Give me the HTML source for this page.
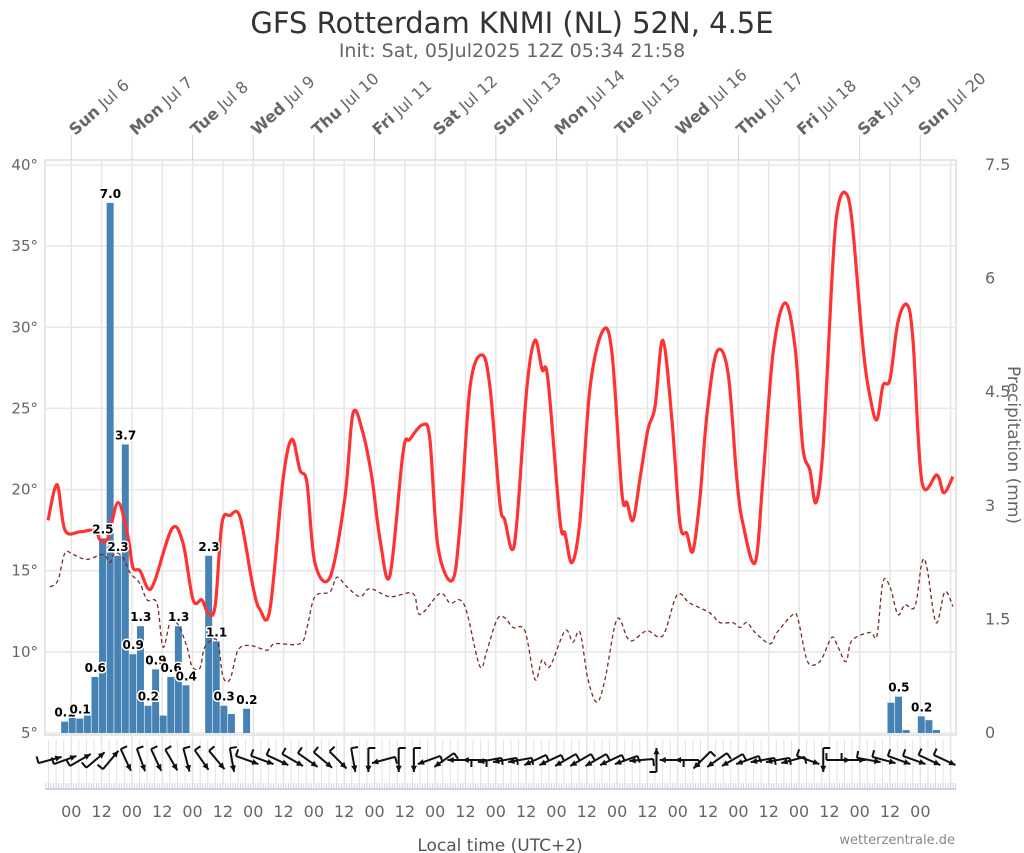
<!DOCTYPE html>
<html><head><meta charset="utf-8"><style>
html,body{margin:0;padding:0;background:#fff;}
svg{display:block;font-family:"DejaVu Sans","Liberation Sans",sans-serif;}
</style></head><body>
<svg id="chart" width="1024" height="853" viewBox="0 0 1024 853" xmlns="http://www.w3.org/2000/svg">
<text x="512" y="33" text-anchor="middle" font-size="29" fill="#333">GFS Rotterdam KNMI (NL) 52N, 4.5E</text>
<text x="512" y="57" text-anchor="middle" font-size="19" fill="#666">Init: Sat, 05Jul2025 12Z 05:34 21:58</text>
<g id="grid"></g>
<g id="bars"></g>
<g id="lines"></g>
<g id="wind"></g>
<g id="axes"></g>
<text x="500" y="851" text-anchor="middle" font-size="17" fill="#555">Local time (UTC+2)</text>
<text x="955" y="844" text-anchor="end" font-size="13" fill="#888">wetterzentrale.de</text>
<text transform="translate(1008,445) rotate(90)" text-anchor="middle" font-size="17" fill="#666">Precipitation (mm)</text>
</svg>
<script>
const tempHours=[0.8,4.4,7.5,13.5,19.4,21.4,24.5,28.5,32.4,34.4,37.2,40.4,43.1,49.9,54.2,58.2,61.7,64.1,66.9,69.6,72.8,76.8,81.9,84.7,88.6,93.8,97.3,100.5,103.3,106.4,112.4,118.3,121.5,125.4,129.0,132.2,136.1,141.3,144.0,149.2,151.9,155.1,160.7,163.8,167.8,172.5,175.7,179.6,181.6,184.4,186.4,190.3,193.5,196.3,198.6,203.4,205.4,208.1,211.3,215.3,220.4,224.0,227.9,229.9,232.3,235.0,238.2,241.0,244.1,247.7,250.9,253.6,256.0,258.8,261.6,265.5,269.9,273.4,275.8,280.6,283.7,287.7,292.4,296.4,299.5,302.3,304.7,307.5,311.4,313.4,316.2,318.9,323.3,326.1,328.8,331.2,334.0,337.1,340.7,343.1,346.6,352.6,355.3,358.9];
const tempValues=[18.1,20.3,17.5,17.4,17.5,16.9,17.0,19.2,17.1,15.2,15.0,13.9,14.4,17.6,16.7,13.2,13.2,12.4,12.8,17.9,18.4,18.3,14.0,12.6,12.6,20.6,23.1,21.2,20.4,15.5,14.6,19.5,24.7,23.5,20.7,16.9,14.7,22.3,23.1,24.0,23.1,16.5,14.4,17.7,26.3,28.3,26.3,19.2,18.1,16.3,18.1,26.3,29.2,27.4,26.8,18.1,17.3,15.5,18.1,26.3,29.8,28.4,19.8,19.2,18.1,20.6,23.7,25.1,29.2,24.3,17.9,17.3,16.2,19.5,24.7,28.5,27.2,20.6,17.9,15.5,20.6,28.4,31.5,28.8,22.6,21.2,19.2,22.6,34.0,37.4,38.3,36.6,28.8,25.7,24.3,26.4,26.8,30.3,31.4,29.2,20.5,20.9,19.8,20.8];
const dewHours=[1.6,4.7,7.5,10.7,16.2,22.6,25.3,27.3,30.5,33.2,37.2,40.0,43.9,46.3,49.1,52.2,55.8,57.8,60.9,62.9,67.7,70.0,72.8,76.0,80.7,87.5,90.6,100.5,103.3,106.4,112.4,115.1,119.1,124.3,128.2,136.1,145.2,148.0,155.9,159.9,163.8,166.6,171.7,174.5,178.5,181.6,184.8,189.5,193.5,196.3,199.4,205.4,208.5,211.3,214.5,218.0,221.2,225.9,229.9,232.3,237.8,244.1,249.7,254.8,262.7,266.7,271.8,274.6,277.4,280.6,286.5,289.3,295.6,297.6,301.1,304.3,307.1,311.0,313.4,316.6,318.9,326.1,328.8,331.2,334.0,337.1,339.9,343.9,346.6,348.6,352.2,355.7,358.9];
const dewValues=[14.0,14.4,16.1,16.0,15.7,16.0,15.5,16.1,15.8,14.9,14.2,13.2,13.0,10.3,11.8,11.7,10.3,9.1,9.0,10.3,10.7,8.5,8.3,10.1,10.4,10.1,10.5,10.5,11.5,13.4,13.7,14.6,14.0,13.4,13.9,13.4,13.6,12.3,13.6,13.0,13.2,12.4,9.1,10.1,12.0,12.1,11.5,11.3,8.3,9.5,9.1,11.3,10.6,11.2,8.3,6.9,8.3,12.0,10.9,10.7,11.3,11.0,13.5,13.0,12.4,11.8,11.8,11.5,11.8,11.2,10.5,11.2,12.3,12.0,9.5,9.2,9.6,10.9,10.3,9.4,10.7,11.2,11.0,14.3,14.0,12.3,12.9,12.8,15.5,15.2,11.8,13.7,12.8];
const barHours=[6,9,12,15,18,21,24,27,30,33,36,39,42,45,48,51,54,57,60,63,66,69,72,75,78,333,336,339,342,345,348,351];
const barValues=[0.15,0.22,0.19,0.23,0.74,2.57,7.0,2.34,3.81,1.04,1.41,0.36,0.84,0.23,0.74,1.41,0.63,0,0,2.34,1.21,0.36,0.25,0,0.32,0.4,0.48,0.04,0,0.22,0.17,0.04];
const barLabels=["0.1","","0.1","","0.6","2.5","7.0","2.3","3.7","0.9","1.3","0.2","0.9","","0.6","1.3","0.4","","","2.3","1.1","0.3","","","0.2","","0.5","","","0.2","",""];
const windAngles=[-15,-20,-30,-40,-50,65,70,65,60,75,55,50,80,20,20,25,30,35,40,45,80,90,165,90,90,160,145,180,180,170,170,170,155,155,150,150,150,155,160,175,-90,180,180,135,145,150,160,170,170,165,20,90,0,0,10,15,20,20,25,25];
const dayLabels=["Sun","Mon","Tue","Wed","Thu","Fri","Sat","Sun","Mon","Tue","Wed","Thu","Fri","Sat","Sun"];
const dateLabels=["Jul 6","Jul 7","Jul 8","Jul 9","Jul 10","Jul 11","Jul 12","Jul 13","Jul 14","Jul 15","Jul 16","Jul 17","Jul 18","Jul 19","Jul 20"];
const tempTicks=[5,10,15,20,25,30,35,40];
const precTicks=[0,1.5,3,4.5,6,7.5];

const NS="http://www.w3.org/2000/svg";
const X0=46,PXH=2.527,TOP=165,BOT=733,L=45,R=956;
const xH=h=>X0+h*PXH;
const yT=t=>BOT-(t-5)*(BOT-TOP)/35;
const yP=p=>BOT-p*(BOT-TOP)/7.5;
function mk(tag,attrs,parent){const e=document.createElementNS(NS,tag);for(const k in attrs)e.setAttribute(k,attrs[k]);parent.appendChild(e);return e;}
const grid=document.getElementById('grid'),axes=document.getElementById('axes');
let bg=mk('rect',{x:L,y:160,width:R-L,height:BOT-160+2,fill:'none',stroke:'#ccc','stroke-width':1},grid);


tempTicks.forEach(t=>{
  const y=yT(t);
  const l=mk('line',{x1:L,x2:R,y1:y,y2:y,stroke:'#e8e8e8','stroke-width':1.5},grid);
  
  
  const tx=mk('text',{x:38,y:y+5,'text-anchor':'end','font-size':15,fill:'#666'},axes);
  tx.textContent=t+'°';
  
  
});
precTicks.forEach(p=>{
  const tx=mk('text',{x:985,y:yP(p)+5,'font-size':16,fill:'#666'},axes);
  tx.textContent=String(p);
  
  
});
for(let h=10-12;h<=360;h+=12){
  const x=xH(h); if(x<L||x>R)continue;
  const l=mk('line',{x1:x,x2:x,y1:160,y2:785,stroke:'#e6e6e6','stroke-width':1.5},grid);
  
  
}
for(let h=1;h<=360;h+=3){
  const x=xH(h);
  const l=mk('line',{x1:x,x2:x,y1:740,y2:785,stroke:'#e3e3e3','stroke-width':1},grid);
  
  
}
for(let h=0;h<=360;h+=1){
  const x=xH(h);
  const l=mk('line',{x1:x,x2:x,y1:783,y2:789,stroke:'#cdd3e0','stroke-width':1},grid);
  
  
}
const bl=mk('line',{x1:L,x2:R,y1:789,y2:789,stroke:'#cdd3e0','stroke-width':2},grid);


for(let h=10,i=0;h<=350;h+=12,i++){
  const tx=mk('text',{x:xH(h),y:817,'text-anchor':'middle','font-size':16,fill:'#666'},axes);
  tx.textContent=(i%2===0)?'00':'12';
  
  
}
dayLabels.forEach((d,i)=>{
  const x=xH(10+24*i);
  const l=mk('line',{x1:x,x2:x,y1:135,y2:160,stroke:'#ccd6eb','stroke-width':1},axes);
  
  
  const tx=mk('text',{transform:`translate(${x+4},${136}) rotate(-42)`,'font-size':16,fill:'#666'},axes);
  
  
  const b=mk('tspan',{'font-weight':'bold'},tx); b.textContent=d;
  const s=mk('tspan',{},tx); s.textContent=' '+dateLabels[i];
});
const bars=document.getElementById('bars');
barHours.forEach((h,i)=>{
  const v=barValues[i]; if(v<=0)return;
  const x=xH(h),w=3*PXH,y=yP(v);
  const r=mk('rect',{x:x,y:y,width:w-0.6,height:BOT-y,fill:'#4682b4'},bars);
  
  
});
function smooth(hs,vs,yf){
  const p=hs.map((h,i)=>[xH(h),yf(vs[i])]);
  let d='M'+p[0][0]+','+p[0][1];
  for(let i=0;i<p.length-1;i++){
    const p0=p[i-1]||p[i],p1=p[i],p2=p[i+1],p3=p[i+2]||p2;
    const c1=[p1[0]+(p2[0]-p0[0])/6,p1[1]+(p2[1]-p0[1])/6];
    const c2=[p2[0]-(p3[0]-p1[0])/6,p2[1]-(p3[1]-p1[1])/6];
    d+=`C${c1[0].toFixed(1)},${c1[1].toFixed(1)} ${c2[0].toFixed(1)},${c2[1].toFixed(1)} ${p2[0].toFixed(1)},${p2[1].toFixed(1)}`;
  }
  return d;
}
const lines=document.getElementById('lines');
const dl=mk('path',{d:smooth(dewHours,dewValues,yT),fill:'none',stroke:'#7a2a2a','stroke-width':1.3,'stroke-dasharray':'4,3'},lines);


const tl=mk('path',{d:smooth(tempHours,tempValues,yT),fill:'none',stroke:'#ff3333','stroke-width':3.2,'stroke-linejoin':'round'},lines);


barHours.forEach((h,i)=>{
  if(!barLabels[i])return;
  const tx=mk('text',{x:xH(h)+1.5*PXH,y:yP(barValues[i])-5,'text-anchor':'middle','font-size':12,'font-weight':'bold',fill:'#000',stroke:'#fff','stroke-width':3,'paint-order':'stroke'},lines);
  tx.textContent=barLabels[i];
  
  
});
const wind=document.getElementById('wind');
windAngles.forEach((a,i)=>{
  const x=xH(6*i)+4,y=760,len=24,rad=a*Math.PI/180;
  const ex=x+Math.cos(rad)*len/2,ey=y+Math.sin(rad)*len/2;
  const sx=x-Math.cos(rad)*len/2,sy=y-Math.sin(rad)*len/2;
  const g=mk('g',{},wind);
  
  
  mk('line',{x1:sx,y1:sy,x2:ex,y2:ey,stroke:'#111','stroke-width':2},g);
  const hx1=ex-Math.cos(rad-0.45)*7,hy1=ey-Math.sin(rad-0.45)*7,hx2=ex-Math.cos(rad+0.45)*7,hy2=ey-Math.sin(rad+0.45)*7;
  mk('polygon',{points:`${ex},${ey} ${hx1},${hy1} ${hx2},${hy2}`,fill:'#111'},g);
  const bx=sx+Math.cos(rad-1.57)*7,by=sy+Math.sin(rad-1.57)*7;
  mk('line',{x1:sx,y1:sy,x2:bx,y2:by,stroke:'#111','stroke-width':2},g);
});
</script>
</body></html>
